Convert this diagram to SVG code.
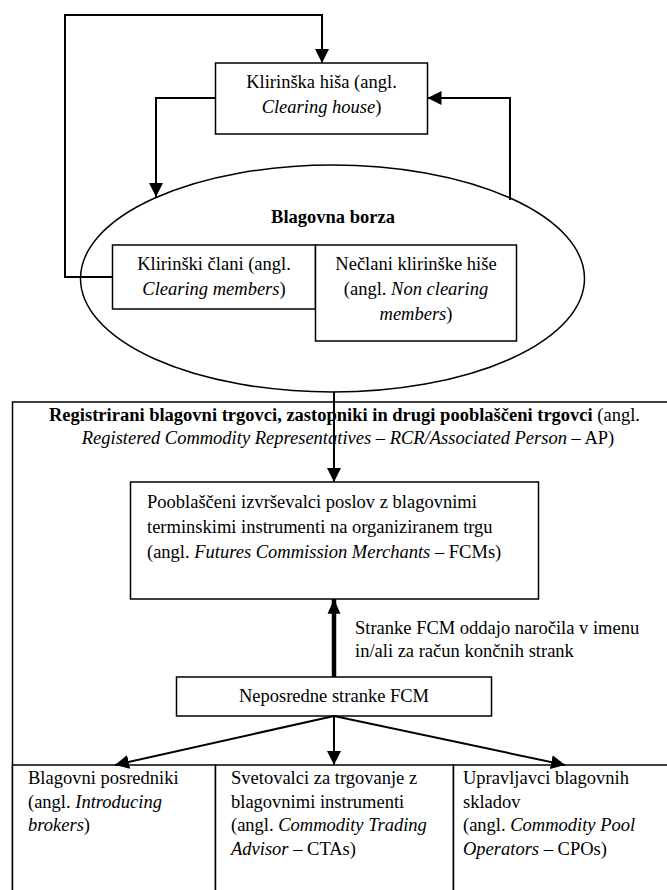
<svg xmlns="http://www.w3.org/2000/svg" width="667" height="890" viewBox="0 0 667 890">
<style>
text{font-family:"Liberation Serif","Times New Roman",serif;font-size:18.5px;fill:#000}
.b{font-weight:bold}
.i{font-style:italic}
.c{text-anchor:middle}
.box{fill:#fff;stroke:#000;stroke-width:1.5}
.ln{fill:none;stroke:#000;stroke-width:2}
.thick{fill:none;stroke:#000;stroke-width:4.5}
</style>
<defs>
<marker id="ah" viewBox="0 0 14 14" refX="14" refY="7" markerWidth="7" markerHeight="7" markerUnits="strokeWidth" orient="auto"><path d="M0,0L14,7L0,14z" fill="#000"/></marker>
<marker id="ah2" viewBox="0 0 15 13" refX="15" refY="6.5" markerWidth="3.3" markerHeight="2.9" markerUnits="strokeWidth" orient="auto"><path d="M0,0L15,6.5L0,13z" fill="#000"/></marker>
</defs>
<g id="outer">
<rect class="box" x="12.5" y="402" width="700" height="520"/>
<text x="344.5" y="421" class="c"><tspan class="b">Registrirani blagovni trgovci, zastopniki in drugi pooblaščeni trgovci</tspan> (angl.</text>
<text x="348" y="444" class="c"><tspan class="i">Registered Commodity Representatives – RCR/Associated Person</tspan> – AP)</text>
</g>
<g id="exchange">
<ellipse cx="332.5" cy="278.5" rx="252" ry="113.5" fill="#fff" stroke="#000" stroke-width="1.5"/>
<text x="333" y="223" class="c b">Blagovna borza</text>
</g>
<g id="clearing-house">
<rect class="box" x="215.5" y="63" width="212" height="71"/>
<text x="321.5" y="88" class="c">Klirinška hiša (angl.</text>
<text x="321.5" y="113" class="c"><tspan class="i">Clearing house</tspan>)</text>
</g>
<g id="clearing-members">
<rect class="box" x="112.5" y="245" width="203" height="64"/>
<text x="214" y="270" class="c">Klirinški člani (angl.</text>
<text x="214" y="295" class="c"><tspan class="i">Clearing members</tspan>)</text>
</g>
<g id="non-clearing-members">
<rect class="box" x="315.5" y="245" width="201" height="96"/>
<text x="416" y="270" class="c">Nečlani klirinške hiše</text>
<text x="416" y="295" class="c">(angl. <tspan class="i">Non clearing</tspan></text>
<text x="416" y="320" class="c"><tspan class="i">members</tspan>)</text>
</g>
<g id="fcm">
<rect class="box" x="130.5" y="482" width="408" height="117"/>
<text x="147" y="508">Pooblaščeni izvrševalci poslov z blagovnimi</text>
<text x="147" y="533">terminskimi instrumenti na organiziranem trgu</text>
<text x="147" y="558">(angl. <tspan class="i">Futures Commission Merchants</tspan> – FCMs)</text>
</g>
<g id="direct-clients">
<rect class="box" x="176.5" y="677" width="315" height="39"/>
<text x="334" y="702" class="c">Neposredne stranke FCM</text>
</g>
<g id="introducing-brokers">
<rect class="box" x="12.5" y="765" width="203" height="140"/>
<text x="28" y="784">Blagovni posredniki</text>
<text x="28" y="808">(angl. <tspan class="i">Introducing</tspan></text>
<text x="28" y="831"><tspan class="i">brokers</tspan>)</text>
</g>
<g id="cta">
<rect class="box" x="215.5" y="765" width="238" height="140"/>
<text x="231" y="784">Svetovalci za trgovanje z</text>
<text x="231" y="808">blagovnimi instrumenti</text>
<text x="231" y="831">(angl. <tspan class="i">Commodity Trading</tspan></text>
<text x="231" y="855"><tspan class="i">Advisor</tspan> – CTAs)</text>
</g>
<g id="cpo">
<rect class="box" x="453.5" y="765" width="260" height="140"/>
<text x="463" y="784">Upravljavci blagovnih</text>
<text x="463" y="808">skladov</text>
<text x="463" y="831">(angl. <tspan class="i">Commodity Pool</tspan></text>
<text x="463" y="855"><tspan class="i">Operators</tspan> – CPOs)</text>
</g>
<g id="connectors">
<polyline class="ln" points="112.5,277 65,277 65,15 322,15 322,63" marker-end="url(#ah)"/>
<polyline class="ln" points="215.5,98 156,98 156,197" marker-end="url(#ah)"/>
<polyline class="ln" points="510,200 510,98 427.5,98" marker-end="url(#ah)"/>
<line class="ln" x1="334" y1="392" x2="334" y2="482" marker-end="url(#ah)"/>
<line class="thick" x1="334" y1="677" x2="334" y2="599" marker-end="url(#ah2)"/>
<line class="ln" x1="334" y1="716" x2="115" y2="765" marker-end="url(#ah)"/>
<line class="ln" x1="334" y1="716" x2="334" y2="765" marker-end="url(#ah)"/>
<line class="ln" x1="334" y1="716" x2="565" y2="765" marker-end="url(#ah)"/>
<text x="355" y="634">Stranke FCM oddajo naročila v imenu</text>
<text x="355" y="657">in/ali za račun končnih strank</text>
</g>
</svg>
